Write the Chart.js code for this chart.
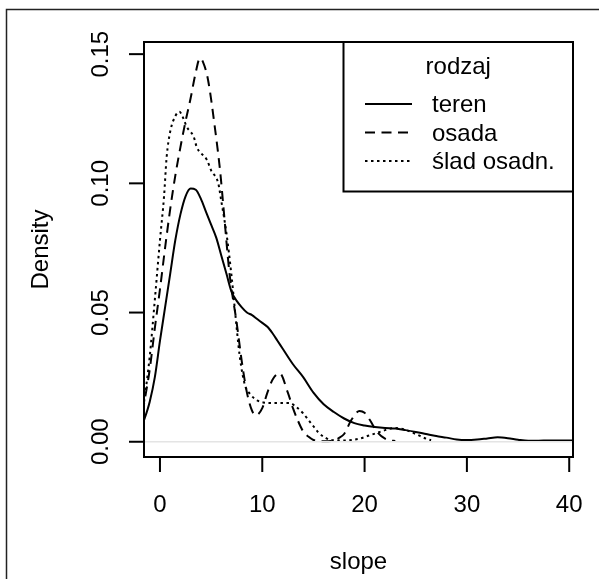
<!DOCTYPE html>
<html>
<head>
<meta charset="utf-8">
<script src="https://cdn.jsdelivr.net/npm/chart.js@4"></script>
<style>
	body { margin: 0; background: #fff; }
	canvas { display: block; }
</style>
</head>
<body>
<canvas id="densityChart" width="599" height="579"></canvas>
<script>
// values
const xTicks = [0, 10, 20, 30, 40];
const yTicks = [0, 0.05, 0.10, 0.15];
const yTickLabels = ["0.00", "0.05", "0.10", "0.15"];
const xTitle = "slope";
const yTitle = "Density";
const legendTitle = "rodzaj";
const seriesNames = ["teren", "osada", "ślad osadn."];

const terenX = [-2, -1.5, -1, -0.5, 0, 0.5, 1, 1.5, 2, 2.5, 3, 3.5, 4, 4.5, 5, 5.5, 6, 6.5, 7, 7.5, 8, 8.5, 9, 9.5, 10, 10.5, 11, 11.5, 12, 13, 14, 15, 16, 17, 18, 19, 20, 21, 22, 23, 24, 25, 26, 27, 28, 29, 30, 31, 32, 33, 34, 35, 36, 37, 38, 39, 40, 41];
const terenY = [0.004, 0.009, 0.0155, 0.025, 0.039, 0.052, 0.065, 0.078, 0.088, 0.095, 0.098, 0.0975, 0.094, 0.089, 0.084, 0.079, 0.072, 0.065, 0.058, 0.0545, 0.052, 0.050, 0.049, 0.0475, 0.046, 0.0445, 0.042, 0.039, 0.036, 0.030, 0.025, 0.019, 0.0145, 0.0115, 0.009, 0.0072, 0.0063, 0.0057, 0.0053, 0.0051, 0.0045, 0.0038, 0.003, 0.0022, 0.0016, 0.0009, 0.0007, 0.0009, 0.0013, 0.0017, 0.0014, 0.0008, 0.0004, 0.0004, 0.0005, 0.0005, 0.0005, 0.0004];

const osadaX = [-2, -1.5, -1, -0.5, 0, 0.5, 1, 1.5, 2, 2.5, 3, 3.5, 3.9, 4.2, 4.7, 5.4, 5.9, 6.2, 6.8, 7.5, 8, 8.5, 9, 9.4, 10, 10.5, 11, 11.7, 12.5, 13, 13.5, 14, 14.5, 15, 16, 17, 17.5, 18, 18.7, 19.5, 20, 20.5, 21.3, 22, 22.5, 23];
const osadaY = [0.005, 0.016, 0.028, 0.044, 0.059, 0.075, 0.09, 0.103, 0.114, 0.124, 0.133, 0.143, 0.1484, 0.147, 0.14, 0.1206, 0.104, 0.091, 0.065, 0.046, 0.031, 0.019, 0.012, 0.0103, 0.013, 0.019, 0.024, 0.0265, 0.019, 0.013, 0.008, 0.004, 0.002, 0.0007, 0.0002, 0.0005, 0.0015, 0.003, 0.0084, 0.0119, 0.0112, 0.0085, 0.0034, 0.0012, 0.0005, 0.0003];

const sladX = [-2, -1.5, -1, -0.5, 0, 0.4, 0.65, 1, 1.5, 1.9, 2.3, 2.6, 3.3, 3.6, 4.6, 5, 5.7, 6, 6.5, 7, 7.3, 7.8, 8.3, 8.8, 9.5, 10.1, 11, 12, 12.7, 13.3, 14, 14.5, 15, 15.5, 16, 16.6, 17.5, 18.5, 19.5, 20.5, 21.2, 22, 23, 24, 25, 26, 26.5];
const sladY = [0.004, 0.017, 0.033, 0.055, 0.078, 0.095, 0.11, 0.12, 0.126, 0.1277, 0.125, 0.122, 0.118, 0.114, 0.109, 0.105, 0.1, 0.093, 0.0806, 0.064, 0.052, 0.033, 0.022, 0.0185, 0.016, 0.0152, 0.015, 0.015, 0.015, 0.0135, 0.011, 0.0085, 0.006, 0.0035, 0.002, 0.0008, 0.0005, 0.0006, 0.0012, 0.0025, 0.0034, 0.0045, 0.0053, 0.0046, 0.003, 0.0012, 0.0006];

const xMin = -1.56, xMax = 40.37;
const yMin = -0.0059, yMax = 0.1547;

const FONT = "24px 'Liberation Sans', Arial, sans-serif";

function toPoints(xs, ys) {
	return xs.map((x, i) => ({ x: x, y: ys[i] }));
}

function curve(label, xs, ys, dash) {
	return {
		label: label,
		data: toPoints(xs, ys),
		borderColor: "#000",
		borderWidth: 2,
		borderDash: dash,
		pointRadius: 0,
		fill: false,
		cubicInterpolationMode: "monotone"
	};
}

const rPlot = {
	id: "rPlot",
	afterDraw(chart) {
		const c = chart.ctx;
		const a = chart.chartArea;
		const sx = chart.scales.x;
		const sy = chart.scales.y;
		c.save();
		c.strokeStyle = "#000";
		c.fillStyle = "#000";
		c.lineWidth = 2;
		c.setLineDash([]);
		c.strokeRect(a.left, a.top, a.right - a.left, a.bottom - a.top);

		c.font = FONT;
		// x axis ticks + labels
		c.textAlign = "center";
		c.textBaseline = "alphabetic";
		xTicks.forEach(v => {
			const px = sx.getPixelForValue(v);
			c.beginPath();
			c.moveTo(px, a.bottom);
			c.lineTo(px, a.bottom + 15);
			c.stroke();
			c.fillText(String(v), px, 512);
		});
		c.fillText(xTitle, (a.left + a.right) / 2, 569);

		// y axis ticks + rotated labels
		yTicks.forEach((v, i) => {
			const py = sy.getPixelForValue(v);
			c.beginPath();
			c.moveTo(a.left, py);
			c.lineTo(a.left - 15, py);
			c.stroke();
			c.save();
			c.translate(108, py);
			c.rotate(-Math.PI / 2);
			c.fillText(yTickLabels[i], 0, 0);
			c.restore();
		});
		c.save();
		c.translate(48, (a.top + a.bottom) / 2);
		c.rotate(-Math.PI / 2);
		c.fillText(yTitle, 0, 0);
		c.restore();

		// legend
		const lx = 343.5, ly = a.top, lw = a.right - 343.5, lh = 191.5 - a.top;
		c.strokeRect(lx, ly, lw, lh);
		c.textAlign = "center";
		c.fillText(legendTitle, lx + lw / 2, 73.5);
		const rows = [104, 132.5, 161];
		const dashes = [[], [10, 6.5], [2.5, 3.5]];
		c.textAlign = "left";
		seriesNames.forEach((name, i) => {
			c.setLineDash(dashes[i]);
			c.beginPath();
			c.moveTo(365, rows[i]);
			c.lineTo(412, rows[i]);
			c.stroke();
			c.fillText(name, 432, rows[i] + 8);
		});
		c.setLineDash([]);

		// outer frame (left and top only)
		c.strokeStyle = "#222";
		c.lineWidth = 1.5;
		c.beginPath();
		c.moveTo(6.5, 579);
		c.lineTo(6.5, 9.5);
		c.lineTo(599, 9.5);
		c.stroke();
		c.restore();
	}
};

const ctx = document.getElementById("densityChart");
const densityChart = new Chart(ctx, {
	type: "line",
	data: {
		datasets: [
			{
				label: "zero",
				data: [{ x: xMin, y: 0 }, { x: xMax, y: 0 }],
				borderColor: "#e4e4e4",
				borderWidth: 1.5,
				pointRadius: 0
			},
			curve(seriesNames[0], terenX, terenY, []),
			curve(seriesNames[1], osadaX, osadaY, [10, 6.5]),
			curve(seriesNames[2], sladX, sladY, [2.5, 3.5])
		]
	},
	options: {
		responsive: false,
		animation: false,
		layout: { padding: { left: 144, top: 42, right: 26, bottom: 122 } },
		plugins: { legend: { display: false }, tooltip: { enabled: false } },
		scales: {
			x: { type: "linear", min: xMin, max: xMax, display: false },
			y: { type: "linear", min: yMin, max: yMax, display: false }
		}
	},
	plugins: [rPlot]
});
</script>
</body>
</html>
